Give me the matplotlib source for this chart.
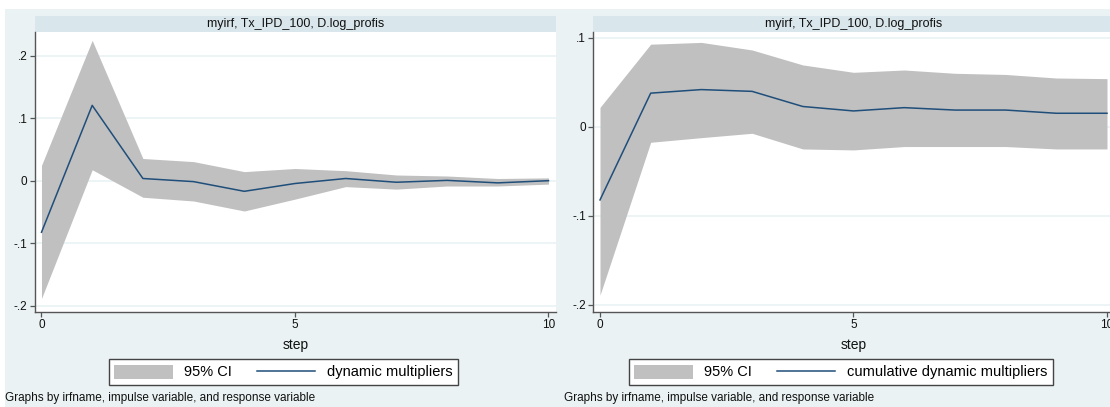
import matplotlib
matplotlib.use("Agg")
import matplotlib.pyplot as plt
from matplotlib.patches import Rectangle, Patch
from matplotlib.lines import Line2D
from matplotlib.ticker import FuncFormatter

plt.rcParams['font.family'] = ['Liberation Sans', 'DejaVu Sans']

# impulse-response results: Tx_IPD_100 -> D.log_profis
steps = [0, 1, 2, 3, 4, 5, 6, 7, 8, 9, 10]

dm = [-0.082, 0.121, 0.004, -0.001, -0.0165, -0.004, 0.004, -0.002, 0.001, -0.003, 0.0005]
dm_lo = [-0.188, 0.018, -0.026, -0.032, -0.048, -0.029, -0.009, -0.013, -0.008, -0.008, -0.005]
dm_hi = [0.025, 0.225, 0.036, 0.031, 0.015, 0.020, 0.0165, 0.0096, 0.008, 0.004, 0.005]

cdm = [-0.082, 0.038, 0.042, 0.040, 0.023, 0.018, 0.0217, 0.019, 0.019, 0.0154, 0.0154]
cdm_lo = [-0.189, -0.0172, -0.012, -0.0071, -0.0247, -0.0258, -0.022, -0.022, -0.022, -0.0247, -0.0247]
cdm_hi = [0.022, 0.093, 0.095, 0.0865, 0.0697, 0.0614, 0.064, 0.0603, 0.059, 0.055, 0.0543]

panel_title = "myirf, Tx_IPD_100, D.log_profis"
ci_label = "95% CI"
line_labels = ["dynamic multipliers", "cumulative dynamic multipliers"]
x_ticks = [0, 5, 10]
left_yticks = [-0.2, -0.1, 0, 0.1, 0.2]
right_yticks = [-0.2, -0.1, 0, 0.1]
footnote = "Graphs by irfname, impulse variable, and response variable"

W, H = 1110, 407
BG = '#eaf2f3'
STRIP = '#d9e6eb'
CI = '#c0c0c0'
LINE = '#1f4e7a'
AXC = '#555555'


def fx(px):
    return px / W


def fy(py):
    return 1 - py / H


def stata_fmt(v, pos=None):
    if abs(v) < 1e-12:
        return "0"
    s = ("%g" % round(v, 6))
    s = s.replace("0.", ".")
    return s


fig = plt.figure(figsize=(W / 100, H / 100), dpi=100)
fig.patch.set_facecolor('white')
fig.patches.append(Rectangle((fx(5), 0), 1 - fx(5), fy(9), transform=fig.transFigure,
                             facecolor=BG, edgecolor='none', zorder=-10))

ax_w = fx(556) - fx(34.5)
ax_b = fy(312)
ax_h = fy(32) - fy(312)
panels = [
    (fx(34.5), dm, dm_lo, dm_hi, line_labels[0], left_yticks, (-0.2096, 0.2384), 283.5),
    (fx(593), cdm, cdm_lo, cdm_hi, line_labels[1], right_yticks, (-0.2079, 0.1067), 841),
]

for left, y, lo, hi, lab, yt, ylim, legx in panels:
    ax = fig.add_axes([left, ax_b, ax_w, ax_h])
    ax.set_zorder(2)
    ax.set_facecolor('white')
    for t in yt:
        ax.axhline(t, color=BG, lw=1.2, zorder=0.5)
    ax.fill_between(steps, lo, hi, color=CI, lw=0, zorder=1)
    ax.plot(steps, y, color=LINE, lw=1.1, zorder=2)
    ax.set_xlim(-0.138, 10.148)
    ax.set_ylim(*ylim)
    ax.set_xticks(x_ticks)
    ax.set_yticks(yt)
    ax.yaxis.set_major_formatter(FuncFormatter(stata_fmt))
    for s in ['top', 'right']:
        ax.spines[s].set_visible(False)
    for s in ['left', 'bottom']:
        ax.spines[s].set_color(AXC)
        ax.spines[s].set_linewidth(1.0)
    ax.tick_params(axis='both', direction='out', length=3.5, width=0.9, color=AXC,
                   labelsize=8.5, labelcolor='#111111', pad=1.5)
    ax.set_xlabel("step", fontsize=10, color='#111111', labelpad=5)

    # title band above each panel
    fig.patches.append(Rectangle((left, fy(32)), ax_w, fy(16) - fy(32), transform=fig.transFigure,
                                 facecolor=STRIP, edgecolor='none', zorder=-5))
    fig.text(left + ax_w / 2, fy(24), panel_title, ha='center', va='center',
             fontsize=9, color='#111111')

    handles = [Patch(facecolor=CI, edgecolor='none'),
               Line2D([0], [0], color=LINE, lw=1.1)]
    leg = fig.legend(handles, [ci_label, lab], loc='center', ncol=2,
                     bbox_to_anchor=(fx(legx), fy(372)), fontsize=10.5,
                     frameon=True, fancybox=False, framealpha=1, edgecolor='#444444',
                     handlelength=4.0, handleheight=1.1, handletextpad=0.8,
                     columnspacing=1.7, borderpad=0.4, borderaxespad=0)
    leg.get_frame().set_linewidth(1.0)

    fig.text(left - fx(29.5), fy(398), footnote, ha='left', va='center',
             fontsize=8.5, color='#111111')

fig.savefig("out.png", dpi=100, facecolor='white')
